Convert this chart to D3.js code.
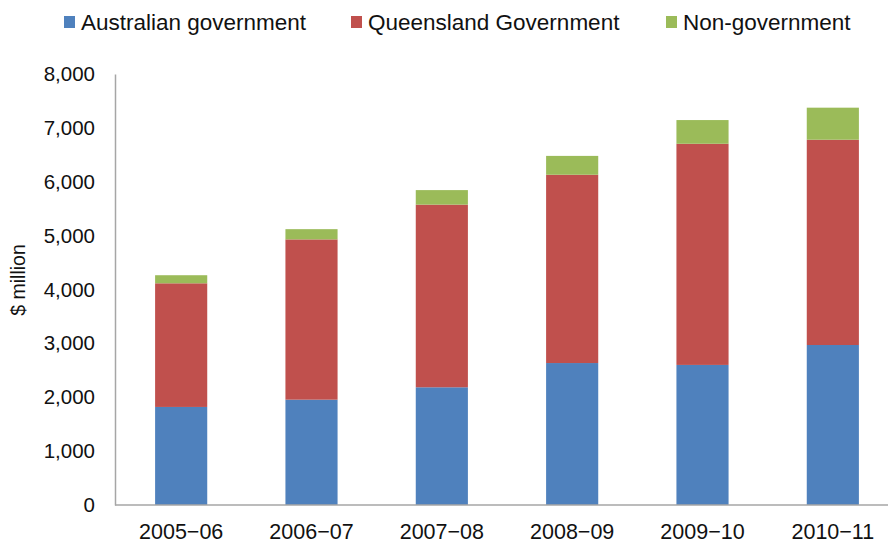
<!DOCTYPE html>
<html>
<head>
<meta charset="utf-8">
<script src="https://cdn.jsdelivr.net/npm/d3@7"></script>
<style>
body{margin:0;background:#fff;}
svg{display:block;font-family:"Liberation Sans",Arial,Helvetica,sans-serif;}
</style>
</head>
<body>
<svg id="chart" width="888" height="543"></svg>
<script>
const categories = ["2005\u221206","2006\u221207","2007\u221208","2008\u221209","2009\u221210","2010\u221211"];
const australian = [1820, 1955, 2185, 2635, 2600, 2970];
const queensland = [2295, 2975, 3390, 3495, 4105, 3810];
const nonGov = [150, 190, 270, 350, 440, 595];
const seriesNames = ["Australian government","Queensland Government","Non-government"];
const colors = ["#4F81BD","#C0504D","#9BBB59"];
const yTicks = [0,1000,2000,3000,4000,5000,6000,7000,8000];

const svg = d3.select("#chart");
const m = {left:115, right:898, top:74, bottom:505};

const rows = categories.map((c,i)=>({cat:c, s0:australian[i], s1:queensland[i], s2:nonGov[i]}));
const stack = d3.stack().keys(["s0","s1","s2"])(rows);

const x = d3.scaleBand().domain(categories).range([m.left+1, m.right]).paddingInner(0.6).paddingOuter(0.3);
const y = d3.scaleLinear().domain([0,8000]).range([m.bottom, m.top]);

svg.append("g").selectAll("g").data(stack).join("g")
  .attr("fill",(d,i)=>colors[i])
  .selectAll("rect").data(d=>d).join("rect")
  .attr("x",d=>x(d.data.cat))
  .attr("width",x.bandwidth())
  .attr("y",d=>y(d[1]))
  .attr("height",d=>y(d[0])-y(d[1]));

// axes
const yAxis = svg.append("g").attr("transform",`translate(${m.left},0)`)
  .call(d3.axisLeft(y).tickValues(yTicks).tickSize(0).tickPadding(20).tickFormat(d3.format(",")));
yAxis.select(".domain").attr("stroke","#A6A6A6").attr("stroke-width",1.5);
yAxis.selectAll("text").attr("font-size",20.5).attr("fill","#111").attr("font-family","'Liberation Sans',Arial,sans-serif");

const xAxis = svg.append("g").attr("transform",`translate(0,${m.bottom})`)
  .call(d3.axisBottom(x).tickSize(0).tickPadding(19));
xAxis.select(".domain").attr("stroke","#A6A6A6").attr("stroke-width",1.5).attr("d",`M${m.left},0H${m.right}`);
xAxis.selectAll("text").attr("font-size",21.5).attr("fill","#111").attr("font-family","'Liberation Sans',Arial,sans-serif");

svg.append("text").attr("transform","translate(25,280) rotate(-90)")
  .attr("text-anchor","middle").attr("font-size",19.5).attr("fill","#111").text("$ million");

// legend
const legendX = [64, 351, 666];
const lg = svg.append("g").selectAll("g").data(seriesNames).join("g")
  .attr("transform",(d,i)=>`translate(${legendX[i]},16)`);
lg.append("rect").attr("width",11).attr("height",12).attr("fill",(d,i)=>colors[i]);
lg.append("text").attr("x",17).attr("y",14).attr("font-size",22.5).attr("fill","#111").text(d=>d);
</script>
</body>
</html>
